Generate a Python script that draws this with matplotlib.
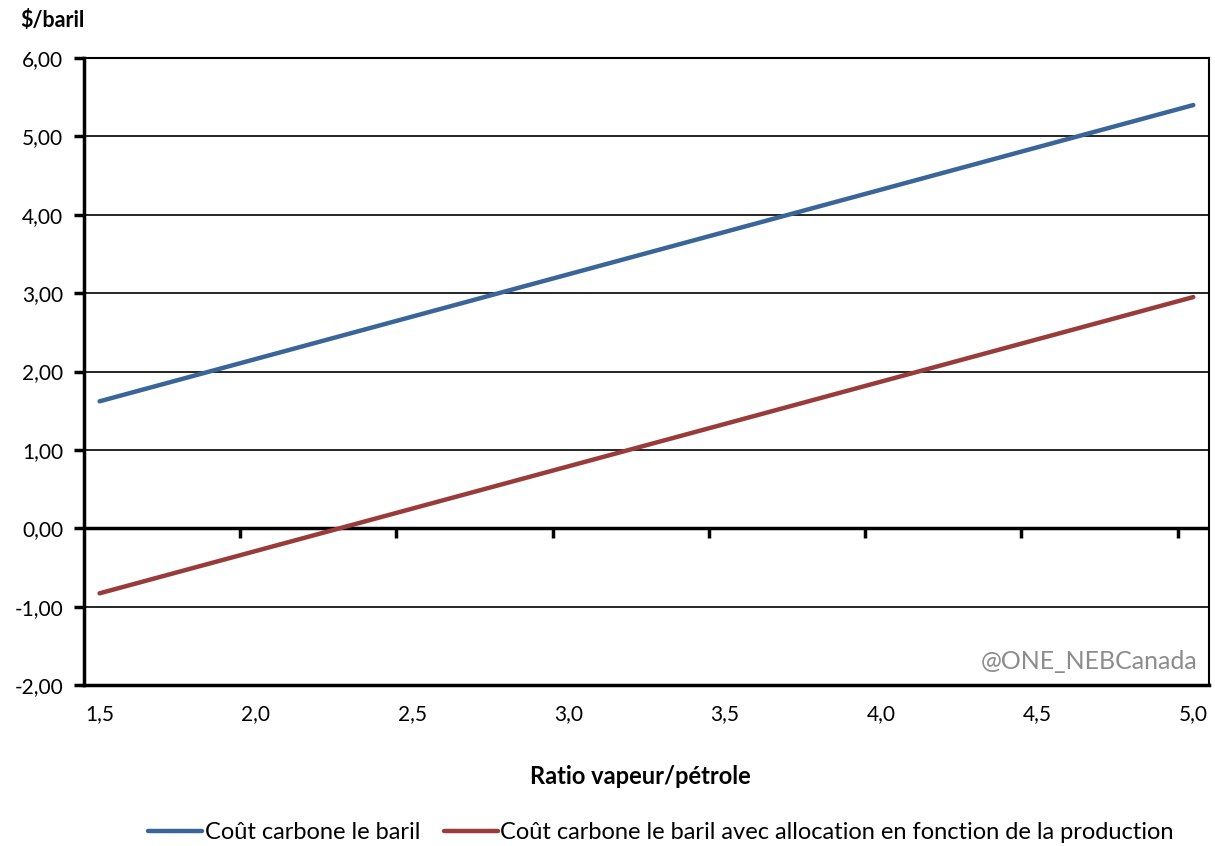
import numpy as np
import matplotlib.pyplot as plt
from matplotlib.ticker import FuncFormatter

plt.rcParams['font.family'] = ['Lato', 'DejaVu Sans']

# ratio vapeur/petrole, pas de 0,1
ratio = [1.5, 1.6, 1.7, 1.8, 1.9, 2.0, 2.1, 2.2, 2.3, 2.4, 2.5, 2.6,
         2.7, 2.8, 2.9, 3.0, 3.1, 3.2, 3.3, 3.4, 3.5, 3.6, 3.7, 3.8,
         3.9, 4.0, 4.1, 4.2, 4.3, 4.4, 4.5, 4.6, 4.7, 4.8, 4.9, 5.0]
cout_baril = [1.62, 1.728, 1.836, 1.944, 2.052, 2.16, 2.268, 2.376, 2.484, 2.592, 2.70, 2.808,
              2.916, 3.024, 3.132, 3.24, 3.348, 3.456, 3.564, 3.672, 3.78, 3.888, 3.996, 4.104,
              4.212, 4.32, 4.428, 4.536, 4.644, 4.752, 4.86, 4.968, 5.076, 5.184, 5.292, 5.40]
cout_alloc = [-0.83, -0.722, -0.614, -0.506, -0.398, -0.29, -0.182, -0.074, 0.034, 0.142, 0.25, 0.358,
              0.466, 0.574, 0.682, 0.79, 0.898, 1.006, 1.114, 1.222, 1.33, 1.438, 1.546, 1.654,
              1.762, 1.87, 1.978, 2.086, 2.194, 2.302, 2.41, 2.518, 2.626, 2.734, 2.842, 2.95]
x_labels = [1.5, 2.0, 2.5, 3.0, 3.5, 4.0, 4.5, 5.0]
y_ticks = [-2, -1, 0, 1, 2, 3, 4, 5, 6]

fig = plt.figure(figsize=(12.15, 8.46), dpi=100)
ax = fig.add_axes([0.0691, 0.1903, 0.9259, 0.7411])

ax.plot(ratio, cout_baril, color='#3A6599', lw=3.2, solid_capstyle='round',
        label='Coût carbone le baril', zorder=3)
ax.plot(ratio, cout_alloc, color='#993B3A', lw=3.2, solid_capstyle='round',
        label='Coût carbone le baril avec allocation en fonction de la production', zorder=3)

ax.set_xlim(1.45, 5.05)
ax.set_ylim(-2, 6)

virgule = lambda fmt: FuncFormatter(lambda v, p: fmt.format(v).replace('.', ','))
ax.set_yticks(y_ticks)
ax.yaxis.set_major_formatter(virgule('{:.2f}'))
ax.set_xticks(x_labels)
ax.xaxis.set_major_formatter(virgule('{:.1f}'))
ax.tick_params(axis='x', length=0, pad=14, labelsize=15)
ax.tick_params(axis='y', length=7, width=2.5, direction='out', pad=8, labelsize=15)

ax.grid(axis='y', color='black', lw=1.2, zorder=1)
ax.axhline(0, color='black', lw=2.5, zorder=2)

for side in ['left', 'bottom']:
    ax.spines[side].set_linewidth(2.5)
for side in ['right', 'top']:
    ax.spines[side].set_linewidth(1.5)

# axe des categories place sur la ligne du zero
axe_zero = ax.secondary_xaxis(0.25)
axe_zero.set_xticks([1.95, 2.45, 2.95, 3.45, 3.95, 4.45, 4.95])
axe_zero.tick_params(length=7, width=2.5, direction='out', labelbottom=False)
axe_zero.spines['bottom'].set_visible(False)

fig.text(0.017, 0.976, '$/baril', fontsize=15.5, fontweight='bold', va='center', ha='left')
fig.text(0.527, 0.082, 'Ratio vapeur/pétrole', fontsize=17, fontweight='bold',
         ha='center', va='center')
ax.text(0.99, 0.037, '@ONE_NEBCanada', transform=ax.transAxes, ha='right', va='center',
        fontsize=18, color='#8C8C8C')

fig.legend(loc='center', bbox_to_anchor=(0.544, 0.016), ncol=2, frameon=False,
           fontsize=17, handlelength=2.3, handletextpad=0.1, columnspacing=1.0)

fig.savefig('out.png', dpi=100)
